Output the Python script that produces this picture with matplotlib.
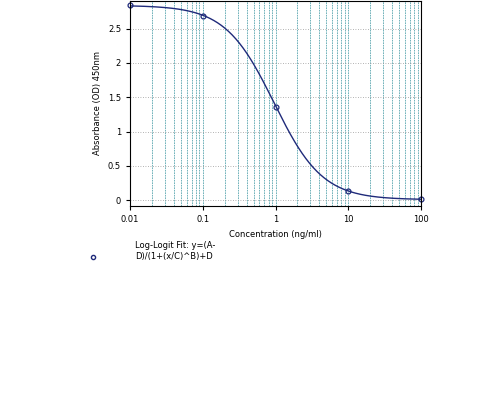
import numpy as np
import matplotlib
matplotlib.use("Agg")
import matplotlib.pyplot as plt

conc = [0.01, 0.1, 1, 10, 100]
absorb = [2.84, 2.68, 1.36, 0.13, 0.01]
# Log-logit fit parameters
A, B, C, D = 2.84, 1.3, 0.95, 0.005

fig = plt.figure(figsize=(4.89, 4.0), dpi=100)
ax = fig.add_axes([0.266, 0.485, 0.595, 0.513])
xs = np.logspace(-2, 2, 400)
ax.plot(xs, (A - D) / (1 + (xs / C) ** B) + D, color="#1f2a7a", lw=1)
ax.plot(conc, absorb, "o", mfc="none", mec="#1f2a7a", ms=3.5, mew=0.9, clip_on=False)
ax.set_xscale("log")
ax.set_xlim(0.01, 100)
ax.set_ylim(-0.087, 2.907)
ax.set_yticks([0, 0.5, 1, 1.5, 2, 2.5])
ax.set_yticklabels(["0", "0.5", "1", "1.5", "2", "2.5"])
ax.set_xticks([0.01, 0.1, 1, 10, 100])
ax.set_xticklabels(["0.01", "0.1", "1", "10", "100"])
ax.grid(True, which="both", axis="x", color="#5aa6b0", ls=(0, (2, 1)), lw=0.6)
ax.grid(True, which="major", axis="y", color="#999999", ls=(0, (1, 2)), lw=0.6)
ax.tick_params(labelsize=6, length=3)
ax.tick_params(which="minor", length=0)
ax.set_xlabel("Concentration (ng/ml)", fontsize=6)
ax.set_ylabel("Absorbance (OD) 450nm", fontsize=6)
fig.text(135 / 489, 1 - 251 / 400, "Log-Logit Fit: y=(A-\nD)/(1+(x/C)^B)+D", fontsize=6,
         va="center", ha="left", multialignment="left")
fig.lines.append(plt.Line2D([93 / 489], [1 - 257 / 400], marker="o", mfc="none", mec="#1f2a7a", ms=3, transform=fig.transFigure))
fig.savefig("out.png", dpi=100)
